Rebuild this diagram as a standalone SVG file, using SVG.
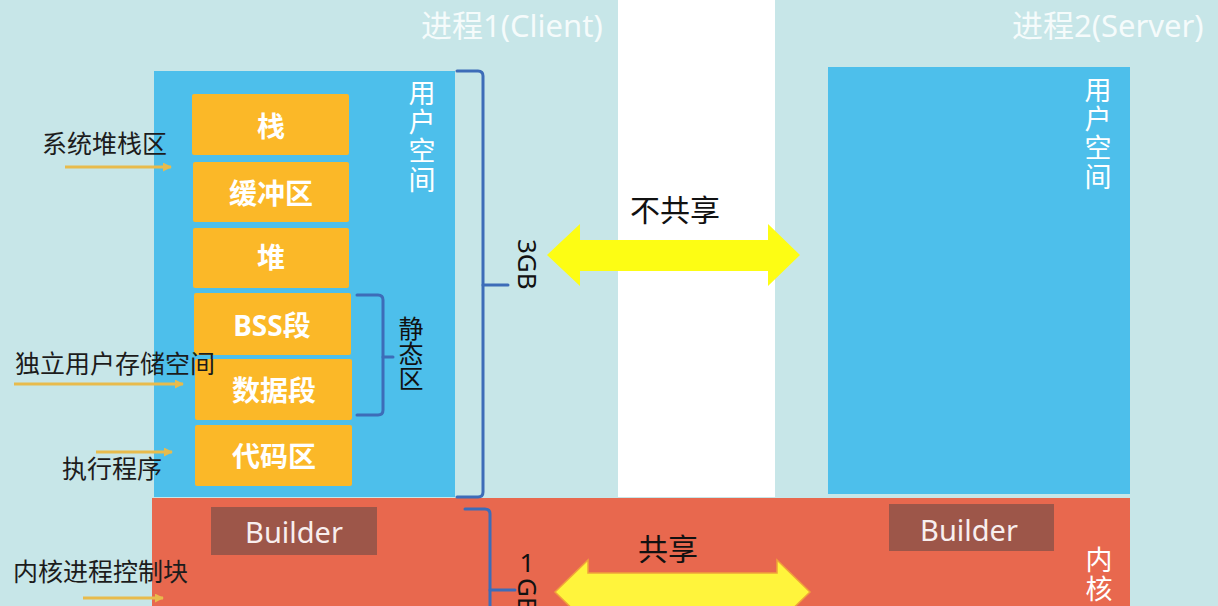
<svg xmlns="http://www.w3.org/2000/svg" width="1218" height="606" viewBox="0 0 1218 606">
<style>
.cjk{font-family:"Noto Sans","Noto Sans CJK SC",sans-serif}
.title{font-size:31px;fill:#f5fbfb}
.seg{fill:#fbb828}
.segt{font-size:28px;font-weight:bold;fill:#ffffff;text-anchor:middle}
.side{font-size:25px;fill:#1c1c1c}
.vert{font-size:27px;fill:#ffffff;writing-mode:vertical-rl;letter-spacing:2px}
.brk{fill:none;stroke:#3d6cb8;stroke-width:3;stroke-linecap:round}
.lead{fill:none;stroke:#e8bb4c;stroke-width:3}
.bld{fill:#9d5649}
.bldt{font-size:29px;fill:#f8eeee;text-anchor:middle}
.lbl{font-size:30px;fill:#111111;text-anchor:middle}
.gb{font-size:26px;fill:#111111}
</style>
<defs>
<marker id="ah" viewBox="0 0 10 10" refX="9" refY="5" markerWidth="3" markerHeight="3" orient="auto">
<path d="M0,0 L10,5 L0,10 z" fill="#e8bb4c"/>
</marker>
</defs>
<rect x="0" y="0" width="1218" height="606" fill="#c7e6e8"/>
<rect x="618" y="0" width="157" height="497" fill="#ffffff"/>

<g id="client-user" class="cjk">
<rect x="154" y="71" width="301" height="426" fill="#4dbfeb"/>
<text class="vert" x="421" y="79">用户空间</text>
</g>
<g id="server-user" class="cjk">
<rect x="828" y="67" width="302" height="427" fill="#4dbfeb"/>
<text class="vert" x="1097" y="76">用户空间</text>
</g>
<g id="kernel" class="cjk">
<rect x="152" y="498" width="978" height="108" fill="#e8684e"/>
<text class="vert" x="1098" y="546">内核</text>
</g>

<g id="title1" class="cjk"><text class="title" x="421" y="37">进程1(Client)</text></g>
<g id="title2" class="cjk"><text class="title" x="1012" y="37">进程2(Server)</text></g>

<g id="seg-stack" class="cjk"><rect class="seg" x="192" y="94" width="157" height="61" rx="2"/><text class="segt" x="271" y="137">栈</text></g>
<g id="seg-buffer" class="cjk"><rect class="seg" x="193" y="162" width="156" height="60" rx="2"/><text class="segt" x="271" y="204">缓冲区</text></g>
<g id="seg-heap" class="cjk"><rect class="seg" x="193" y="228" width="156" height="60" rx="2"/><text class="segt" x="271" y="268">堆</text></g>
<g id="seg-bss" class="cjk"><rect class="seg" x="194" y="293" width="157" height="62" rx="2"/><text class="segt" x="272" y="336">BSS段</text></g>
<g id="seg-data" class="cjk"><rect class="seg" x="195" y="359" width="157" height="61" rx="2"/><text class="segt" x="274" y="401">数据段</text></g>
<g id="seg-code" class="cjk"><rect class="seg" x="195" y="425" width="157" height="61" rx="2"/><text class="segt" x="274" y="467">代码区</text></g>

<g id="static-label" class="cjk"><text x="410" y="316" style="font-size:25px;fill:#111;writing-mode:vertical-rl">静态区</text></g>

<g id="builder1" class="cjk"><rect class="bld" x="211" y="507" width="166" height="48"/><text class="bldt" x="294" y="543">Builder</text></g>
<g id="builder2" class="cjk"><rect class="bld" x="889" y="504" width="165" height="47"/><text class="bldt" x="969" y="541">Builder</text></g>

<g id="side-labels" class="cjk">
<text class="side" x="42" y="153">系统堆栈区</text>
<text class="side" x="15" y="373">独立用户存储空间</text>
<text class="side" x="62" y="478">执行程序</text>
<text class="side" x="13" y="581">内核进程控制块</text>
</g>

<g id="size-labels" class="cjk">
<text class="gb" transform="translate(518,239) rotate(90)">3GB</text>
<text class="gb" x="527" y="572" text-anchor="middle">1</text>
<text class="gb" transform="translate(518,578) rotate(90)">GB</text>
<text class="lbl" x="675" y="221">不共享</text>
<text class="lbl" x="668" y="560">共享</text>
</g>

<g id="connectors">
<path class="brk" d="M457,71 H478 Q483,71 483,76 V492 Q483,497 478,497 H457"/>
<path class="brk" d="M483,285 H508"/>
<path class="brk" d="M465,509 H485 Q490,509 490,514 V606"/>
<path class="brk" d="M490,590 H515"/>
<path class="brk" d="M357,295 H378 Q383,295 383,300 V410 Q383,415 378,415 H357"/>
<path class="brk" d="M383,357 H393"/>
<polygon points="547,255 580,224 580,240 768,240 768,224 800,255 768,286 768,271 580,271 580,286" fill="#fdfd14"/>
<polygon points="555,592 588,560 588,573 777,573 777,560 810,592 777,624 777,611 588,611 588,624" fill="#fff43c" stroke="#f0a23a" stroke-width="1.5"/>
<line class="lead" x1="65" y1="167" x2="171" y2="167" marker-end="url(#ah)"/>
<line class="lead" x1="14" y1="384" x2="183" y2="384" marker-end="url(#ah)"/>
<line class="lead" x1="96" y1="452" x2="172" y2="452" marker-end="url(#ah)"/>
<line class="lead" x1="83" y1="598" x2="163" y2="598" marker-end="url(#ah)"/>
</g>
</svg>
